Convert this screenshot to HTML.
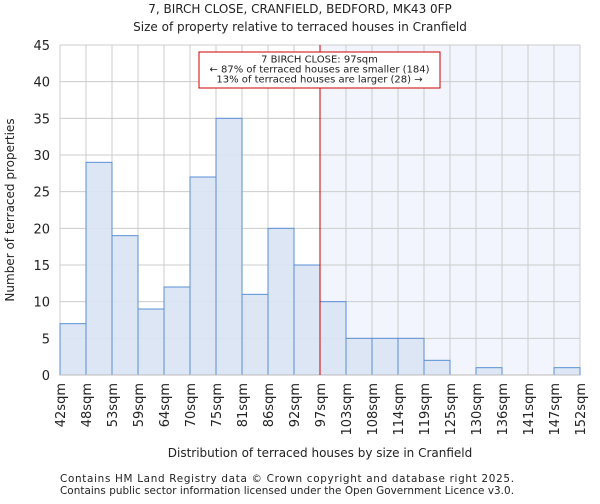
<!DOCTYPE html>
<html><head><meta charset="utf-8"><style>
body{margin:0;background:#fff;font-family:"DejaVu Sans","Liberation Sans",sans-serif}
svg text{font-family:"DejaVu Sans","Liberation Sans",sans-serif;fill:#222}
</style></head><body>
<svg id="c" width="600" height="500">
<text x="300" y="13" font-size="12" text-anchor="middle">7, BIRCH CLOSE, CRANFIELD, BEDFORD, MK43 0FP</text>
<text x="300" y="31" font-size="12" text-anchor="middle">Size of property relative to terraced houses in Cranfield</text>
<g id="plot"></g>
<text x="14" y="210" font-size="12" text-anchor="middle" transform="rotate(-90 14 210)">Number of terraced properties</text>
<text x="320" y="457" font-size="12" text-anchor="middle">Distribution of terraced houses by size in Cranfield</text>
<text x="60" y="482" font-size="10.4" textLength="454">Contains HM Land Registry data © Crown copyright and database right 2025.</text>
<text x="60" y="494" font-size="10.4" textLength="454">Contains public sector information licensed under the Open Government Licence v3.0.</text>
</svg>
<script>
const edges=["42sqm","48sqm","53sqm","59sqm","64sqm","70sqm","75sqm","81sqm","86sqm","92sqm","97sqm","103sqm","108sqm","114sqm","119sqm","125sqm","130sqm","136sqm","141sqm","147sqm","152sqm"];
const counts=[7,29,19,9,12,27,35,11,20,15,10,5,5,5,2,0,1,0,0,1];
const yTicks=[0,5,10,15,20,25,30,35,40,45];
const markerIndex=10;
const x0=60,x1=580,yT=45,yB=375,yMax=45;
const bw=(x1-x0)/counts.length;
const X=i=>x0+i*bw, Y=v=>yB-(v/yMax)*(yB-yT);
const NS="http://www.w3.org/2000/svg",g=document.getElementById('plot');
function mk(t,a){const e=document.createElementNS(NS,t);for(const k in a)e.setAttribute(k,a[k]);g.appendChild(e);return e;}
let e=mk('rect',{x:X(markerIndex),y:yT,width:x1-X(markerIndex),height:yB-yT,fill:'#f2f5fd'});


yTicks.forEach(t=>{let l=mk('line',{x1:x0,x2:x1,y1:Y(t),y2:Y(t),stroke:'#ccc','stroke-width':1});


let tx=mk('text',{x:x0-10,y:Y(t)+5,'font-size':13,'text-anchor':'end'});tx.textContent=t;

});
edges.forEach((s,i)=>{let l=mk('line',{x1:X(i),x2:X(i),y1:yT,y2:yB,stroke:'#ccc','stroke-width':1});


let tx=mk('text',{x:0,y:0,'font-size':13,'text-anchor':'end',transform:`translate(${X(i)+5},${yB+8}) rotate(-90)`});tx.textContent=s;

});
counts.forEach((v,i)=>{if(v<=0)return;let r=mk('rect',{x:X(i),y:Y(v),width:bw,height:yB-Y(v),fill:'#dae4f4','fill-opacity':0.92,stroke:'#5b8fd6','stroke-width':1});

});
e=mk('line',{x1:x0,x2:x1,y1:yB,y2:yB,stroke:'#bbb'});


e=mk('line',{x1:X(markerIndex),x2:X(markerIndex),y1:yT,y2:yB,stroke:'#cc0000','stroke-width':1});


e=mk('rect',{x:199,y:52,width:241,height:36,fill:'#fff',stroke:'#cc0000','stroke-width':1});


["7 BIRCH CLOSE: 97sqm","← 87% of terraced houses are smaller (184)","13% of terraced houses are larger (28) →"].forEach((s,i)=>{
let t=mk('text',{x:319.5,y:62.5+i*10,'font-size':10,'text-anchor':'middle'});t.textContent=s;

});
</script>
</body></html>
